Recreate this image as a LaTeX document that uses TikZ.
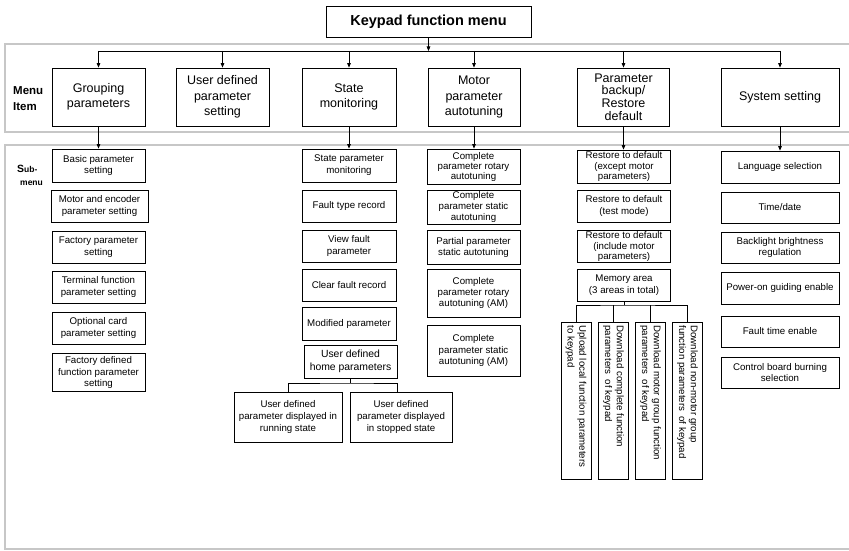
\documentclass[tikz,border=0pt]{standalone}
\usepackage{fontspec}
\setmainfont{Liberation Sans}
\usetikzlibrary{arrows.meta}
\begin{document}
\begin{tikzpicture}[x=1pt,y=-1pt,
  box/.style={draw, line width=0.8pt, fill=white, align=center, inner sep=1pt},
  menubox/.style={box, minimum height=58pt, font=\fontsize{12.5}{15.5}\selectfont},
  sub/.style={box, font=\fontsize{9.7}{11.8}\selectfont},
  rotbox/.style={box, minimum width=30pt, minimum height=157pt, inner sep=0pt},
  frame/.style={draw=black!22, line width=1.1pt},
  arr/.style={line width=0.7pt, -{Triangle[length=4.5pt,width=3.6pt]}},
  ln/.style={line width=0.8pt}]
\useasboundingbox (0,0) rectangle (849,551);

% frames
\draw[frame] (855,44) -- (5,44) -- (5,132) -- (855,132);
\draw[frame] (855,145) -- (5,145) -- (5,549) -- (855,549);

% title
\node[box, minimum width=205pt, minimum height=31pt, font=\bfseries\fontsize{14.5}{17}\selectfont] (title) at (428.5,21.5) {Keypad function menu};

% labels
\node[anchor=west, align=left, inner sep=0pt, font=\bfseries\fontsize{11.5}{16}\selectfont] (lmenu) at (13,98.5) {Menu\\Item};
\node[anchor=west, align=left, inner sep=0pt, font=\bfseries\fontsize{8.5}{13}\selectfont] (lsub) at (17,175.5) {{\fontsize{10.5}{13}\selectfont S}ub-\\\hspace*{3pt}menu};

% menu items
\node[menubox, minimum width=93pt] (m1) at (98.5,97) {Grouping\\parameters};
\node[menubox, minimum width=93pt] (m2) at (222.5,97) {User defined\\parameter\\setting};
\node[menubox, minimum width=94pt] (m3) at (349,97) {State\\monitoring};
\node[menubox, minimum width=92pt] (m4) at (474,97) {Motor\\parameter\\autotuning};
\node[menubox, minimum width=92pt, font=\fontsize{12.5}{12.7}\selectfont] (m5) at (623.5,97) {Parameter\\backup/\\Restore\\default};
\node[menubox, minimum width=118pt] (m6) at (780,97) {System setting};

% bus
\coordinate (bus) at (428.5,51);
\draw[arr] (title.south) -- (bus);
\draw[ln] (m1.north |- bus) -- (m6.north |- bus);
\foreach \m in {m1,m2,m3,m4,m5,m6}{
  \draw[arr] (\m.north |- bus) -- (\m.north);
}

% grouping column
\node[sub, minimum width=93pt, minimum height=33pt] (g1) at (98.5,165.5) {Basic parameter\\setting};
\node[sub, minimum width=97pt, minimum height=32pt] (g2) at (99.5,206) {Motor and encoder\\parameter setting};
\node[sub, minimum width=93pt, minimum height=32pt] (g3) at (98.5,247) {Factory parameter\\setting};
\node[sub, minimum width=93pt, minimum height=32pt] (g4) at (98.5,287) {Terminal function\\parameter setting};
\node[sub, minimum width=93pt, minimum height=32pt] (g5) at (98.5,328) {Optional card\\parameter setting};
\node[sub, minimum width=93pt, minimum height=38pt] (g6) at (98.5,372.5) {Factory defined\\function parameter\\setting};

% state column
\node[sub, minimum width=94pt, minimum height=33pt] (s1) at (349,165.5) {State parameter\\monitoring};
\node[sub, minimum width=94pt, minimum height=32pt] (s2) at (349,206) {Fault type record};
\node[sub, minimum width=94pt, minimum height=32pt] (s3) at (349,246) {View fault\\parameter};
\node[sub, minimum width=94pt, minimum height=32pt] (s4) at (349,285) {Clear fault record};
\node[sub, minimum width=94pt, minimum height=33pt] (s5) at (349,323.5) {Modified parameter};
\node[sub, minimum width=93pt, minimum height=33pt, font=\fontsize{10.4}{13}\selectfont] (s6) at (350.5,361.5) {User defined\\home parameters};
\node[sub, minimum width=108pt, minimum height=50pt] (s7) at (288,417) {User defined\\parameter displayed in\\running state};
\node[sub, minimum width=102pt, minimum height=50pt] (s8) at (401,417) {User defined\\parameter displayed\\in stopped state};
\coordinate (sj) at (350.5,383);
\draw[ln] (s6.south) -- (sj);
\draw[ln] (s7.north) |- (sj) -| ([xshift=-4pt]s8.north);

% motor column
\node[sub, minimum width=93pt, minimum height=35pt, font=\fontsize{9.7}{10}\selectfont] (t1) at (473.5,166.5) {Complete\\parameter rotary\\autotuning};
\node[sub, minimum width=93pt, minimum height=34pt, font=\fontsize{9.7}{11}\selectfont] (t2) at (473.5,207) {Complete\\parameter static\\autotuning};
\node[sub, minimum width=93pt, minimum height=34pt, font=\fontsize{9.7}{11}\selectfont] (t3) at (473.5,247) {Partial parameter\\static autotuning};
\node[sub, minimum width=93pt, minimum height=48pt, font=\fontsize{9.7}{11.3}\selectfont] (t4) at (473.5,293) {Complete\\parameter rotary\\autotuning (AM)};
\node[sub, minimum width=93pt, minimum height=51pt, font=\fontsize{9.7}{11.3}\selectfont] (t5) at (473.5,350.5) {Complete\\parameter static\\autotuning (AM)};

% parameter backup column
\node[sub, minimum width=93pt, minimum height=33pt, font=\fontsize{9.7}{10.5}\selectfont] (p1) at (624,166.5) {Restore to default\\(except motor\\parameters)};
\node[sub, minimum width=93pt, minimum height=32pt] (p2) at (624,206) {Restore to default\\(test mode)};
\node[sub, minimum width=93pt, minimum height=31pt, font=\fontsize{9.7}{10.5}\selectfont] (p3) at (624,246.5) {Restore to default\\(include motor\\parameters)};
\node[sub, minimum width=93pt, minimum height=32pt] (p4) at (624,285) {Memory area\\(3 areas in total)};

\newcommand{\rottext}[1]{\rotatebox{-90}{\parbox{150pt}{\raggedright\fontsize{9.7}{11.8}\selectfont #1}}}
\node[rotbox] (r1) at (576,400.5) {\rottext{Upload local function parameters\\to keypad}};
\node[rotbox] (r2) at (613.5,400.5) {\rottext{Download complete function\\parameters\ \ of keypad}};
\node[rotbox] (r3) at (650.5,400.5) {\rottext{Download motor group function\\parameters\ \ of keypad}};
\node[rotbox] (r4) at (687.5,400.5) {\rottext{Download non-motor group\\function parameters\ \ of keypad}};
\coordinate (pj) at (624,305);
\draw[ln] (p4.south) -- (pj);
\draw[ln] (r1.north) |- (pj) -| (r4.north);
\draw[ln] (r2.north) -- (r2.north |- pj);
\draw[ln] (r3.north) -- (r3.north |- pj);

% system column
\node[sub, minimum width=118pt, minimum height=32pt] (y1) at (780,167) {Language selection};
\node[sub, minimum width=118pt, minimum height=31pt] (y2) at (780,207.5) {Time/date};
\node[sub, minimum width=118pt, minimum height=31pt] (y3) at (780,247.5) {Backlight brightness\\regulation};
\node[sub, minimum width=118pt, minimum height=32pt] (y4) at (780,288) {Power-on guiding enable};
\node[sub, minimum width=118pt, minimum height=31pt] (y5) at (780,331.5) {Fault time enable};
\node[sub, minimum width=118pt, minimum height=31pt] (y6) at (780,372.5) {Control board burning\\selection};

% menu to submenu arrows
\draw[arr] (m1.south) -- (m1.south |- g1.north);
\draw[arr] (m3.south) -- (m3.south |- s1.north);
\draw[arr] (m4.south) -- (m4.south |- t1.north);
\draw[arr] (m5.south) -- (m5.south |- p1.north);
\draw[arr] (m6.south) -- (m6.south |- y1.north);
\end{tikzpicture}
\end{document}
